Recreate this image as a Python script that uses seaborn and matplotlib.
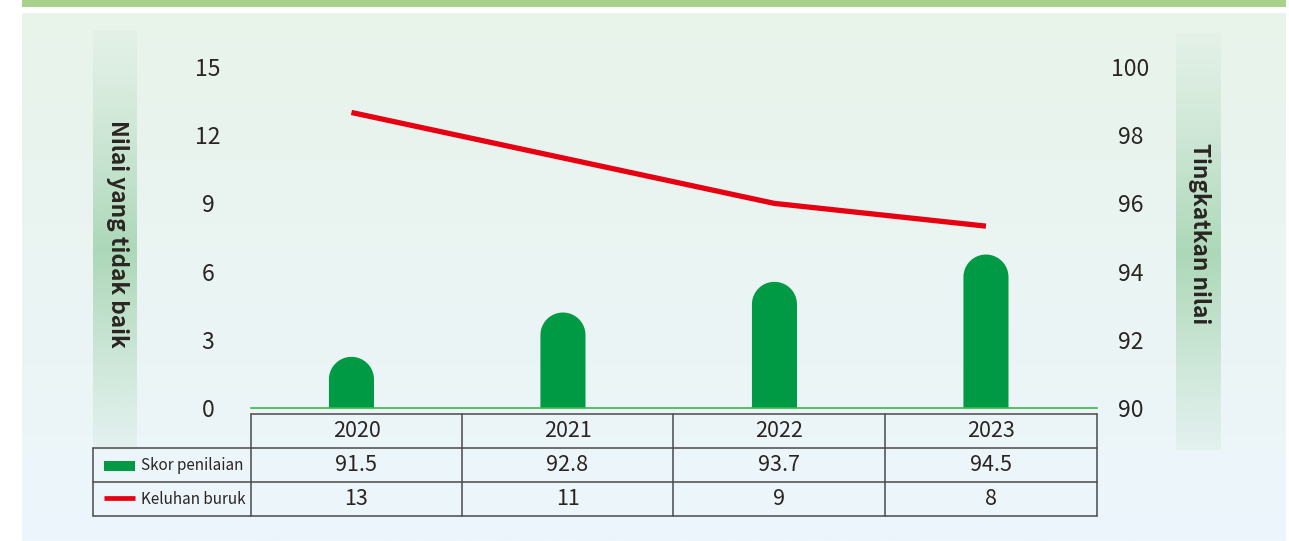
import numpy as np
import matplotlib
matplotlib.use("Agg")
import matplotlib.pyplot as plt
from matplotlib.patches import Rectangle, PathPatch
from matplotlib.path import Path
from matplotlib.lines import Line2D
import seaborn as sns

# Data
years = ["2020", "2021", "2022", "2023"]
scores = [91.5, 92.8, 93.7, 94.5]          # Skor penilaian (right axis)
complaints = [13, 11, 9, 8]                # Keluhan buruk (left axis)
left_ticks = [0, 3, 6, 9, 12, 15]
right_ticks = [90, 92, 94, 96, 98, 100]
left_label = "Nilai yang tidak baik"
right_label = "Tingkatkan nilai"
legend_labels = ["Skor penilaian", "Keluhan buruk"]

sns.set_theme(style="white")
plt.rcParams["font.family"] = ["Noto Sans CJK JP", "DejaVu Sans"]

W, H = 1289, 541
fig = plt.figure(figsize=(W / 100, H / 100), dpi=100)
fig.patch.set_facecolor("white")

GREEN = "#009944"
RED = "#e60012"
BASE = "#3cb64a"
TXT = "#2a2522"
GRID = "#4a4a4a"


def fx(x):
    return x / W


def fy(y):
    return 1 - y / H


# Top green strip
fig.add_artist(Rectangle((fx(22), fy(7)), fx(1286) - fx(22), 7 / H,
                         transform=fig.transFigure, color="#a9d18e", lw=0))

# Panel with soft vertical gradient
bg = fig.add_axes([fx(22), 0, fx(1286) - fx(22), (H - 13) / H], zorder=-10)
top_c = np.array([232, 243, 234]) / 255
bot_c = np.array([237, 246, 252]) / 255
t = np.linspace(0, 1, 256)[:, None]
grad = (top_c[None, :] * (1 - t) + bot_c[None, :] * t)[:, None, :]
bg.imshow(grad, aspect="auto", extent=[0, 1, 0, 1])
bg.set_axis_off()


# Vertical label bands
def band(x0, x1, y0, y1, yc):
    axb = fig.add_axes([fx(x0), fy(y1), fx(x1) - fx(x0), (y1 - y0) / H], zorder=-9)
    ys = np.linspace(y0, y1, 300)
    d = np.clip(np.abs(ys - yc) / max(yc - y0, y1 - yc), 0, 1)
    alpha = 0.08 + 0.92 * (1 - d) ** 1.2
    col = np.array([172, 216, 184]) / 255
    img = np.zeros((300, 1, 4))
    img[:, 0, :3] = col
    img[:, 0, 3] = alpha
    axb.imshow(img, aspect="auto", extent=[0, 1, 0, 1], origin="upper")
    axb.set_axis_off()


band(93, 137, 30, 450, 250)
band(1176, 1221, 33, 450, 253)

# Main axes: bars on the right-hand scale
ax = fig.add_axes([fx(251), fy(408), fx(1097) - fx(251), (408 - 67) / H])
ax.set_facecolor("none")
sns.barplot(x=years, y=scores, ax=ax, color=GREEN, width=0.213,
            saturation=1, edgecolor="none")
ax.set_ylim(right_ticks[0], right_ticks[-1])
ax.set_xlim(-0.475, 3.525)

# Round the bar tops
fig.canvas.draw()
ax_h_px = ax.get_window_extent().height
ax_w_px = ax.get_window_extent().width
xr = ax.get_xlim()[1] - ax.get_xlim()[0]
yr = ax.get_ylim()[1] - ax.get_ylim()[0]
for p in list(ax.patches):
    x0, w, h = p.get_x(), p.get_width(), p.get_height()
    r_px = (w / xr * ax_w_px) / 2
    cap = r_px / ax_h_px * yr
    bottom = ax.get_ylim()[0]
    th = np.linspace(0, np.pi, 60)
    cx = x0 + w / 2
    arc = np.column_stack([cx + (w / 2) * np.cos(th), h - cap + cap * np.sin(th)])
    verts = np.vstack([[x0 + w, bottom], arc, [x0, bottom], [x0 + w, bottom]])
    codes = [Path.MOVETO] + [Path.LINETO] * (len(verts) - 2) + [Path.CLOSEPOLY]
    p.remove()
    ax.add_patch(PathPatch(Path(verts, codes), facecolor=GREEN, edgecolor="none", zorder=2))

# Line on the left-hand scale
ax2 = ax.twinx()
ax2.set_facecolor("none")
sns.lineplot(x=np.arange(len(years)), y=complaints, ax=ax2, color=RED,
             linewidth=3.8, solid_capstyle="butt")
ax2.set_ylim(left_ticks[0], left_ticks[-1])
ax2.set_xlim(ax.get_xlim())

ax.yaxis.tick_right()
ax2.yaxis.tick_left()
ax.set_yticks(right_ticks)
ax2.set_yticks(left_ticks)
ax.set_xticks([])
ax.set_xlabel("")
ax.set_ylabel("")
ax2.set_ylabel("")
for a in (ax, ax2):
    for s in a.spines.values():
        s.set_visible(False)
ax.spines["bottom"].set_visible(True)
ax.spines["bottom"].set_color(BASE)
ax.spines["bottom"].set_linewidth(1.2)

ax.tick_params(axis="y", length=0, pad=24, labelsize=16.5, labelcolor=TXT)
ax2.tick_params(axis="y", length=0, pad=31, labelsize=16.5, labelcolor=TXT)
for lab in ax.get_yticklabels():
    lab.set_horizontalalignment("center")
for lab in ax2.get_yticklabels():
    lab.set_horizontalalignment("center")

# Axis titles
fig.text(fx(117), fy(234), left_label, rotation=-90, ha="center", va="center",
         fontsize=16.3, fontweight="bold", color=TXT)
fig.text(fx(1199), fy(234), right_label, rotation=-90, ha="center", va="center",
         fontsize=16.3, fontweight="bold", color=TXT)

# Data table below the plot
cols = [251, 462, 673, 885, 1097]
rows = [414, 448, 482, 516]


def hline(y, x0, x1):
    fig.add_artist(Line2D([fx(x0), fx(x1)], [fy(y), fy(y)], transform=fig.transFigure,
                          color=GRID, lw=1.1))


def vline(x, y0, y1):
    fig.add_artist(Line2D([fx(x), fx(x)], [fy(y0), fy(y1)], transform=fig.transFigure,
                          color=GRID, lw=1.1))


hline(rows[0], cols[0], cols[-1])
for y in rows[1:]:
    hline(y, 93, cols[-1])
vline(93, rows[1], rows[3])
for x in cols:
    vline(x, rows[0], rows[3])

row_vals = [years, [f"{v:.1f}" for v in scores], [str(v) for v in complaints]]
for r, vals in enumerate(row_vals):
    yc = (rows[r] + rows[r + 1]) / 2
    for c, v in enumerate(vals):
        xc = (cols[c] + cols[c + 1]) / 2
        fig.text(fx(xc), fy(yc), v, ha="center", va="center", fontsize=15.5, color=TXT)

# Legend cells
fig.add_artist(Rectangle((fx(104), fy(471)), fx(135) - fx(104), 10 / H,
                         transform=fig.transFigure, color=GREEN, lw=0))
fig.add_artist(Line2D([fx(104), fx(135)], [fy(498), fy(498)], transform=fig.transFigure,
                      color=RED, lw=3.4, solid_capstyle="butt"))
fig.text(fx(141), fy(465), legend_labels[0], ha="left", va="center", fontsize=11, color=TXT)
fig.text(fx(141), fy(499), legend_labels[1], ha="left", va="center", fontsize=11, color=TXT)

fig.savefig("out.png", dpi=100, facecolor=fig.get_facecolor())
